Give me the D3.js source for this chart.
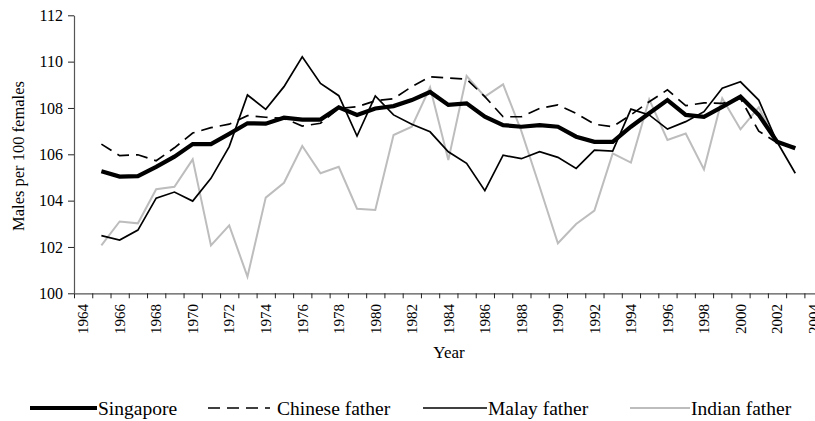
<!DOCTYPE html>
<html>
<head>
<meta charset="utf-8">
<script src="https://cdn.jsdelivr.net/npm/d3@7"></script>
<style>
  body { margin: 0; background: #fff; }
  svg, svg text { font-family: "Liberation Serif", "DejaVu Serif", "Times New Roman", serif; }
</style>
</head>
<body>
<div id="chart"></div>
<script>
// Sex ratio at birth, Singapore, by ethnic group of father
const years = d3.range(1965, 2004);

const singapore = [105.27, 105.04, 105.06, 105.46, 105.9, 106.44, 106.44, 106.88, 107.34, 107.32,
  107.58, 107.5, 107.5, 108.03, 107.7, 107.98, 108.08, 108.34, 108.69, 108.13,
  108.2, 107.62, 107.26, 107.19, 107.26, 107.19, 106.76, 106.54, 106.54, 107.19,
  107.77, 108.34, 107.7, 107.62, 108.05, 108.49, 107.7, 106.54, 106.26];

const chinese = [106.44, 105.94, 105.98, 105.72, 106.28, 106.92, 107.15, 107.3, 107.67, 107.6,
  107.55, 107.22, 107.34, 107.98, 108.05, 108.31, 108.4, 108.92, 109.35, 109.29,
  109.24, 108.49, 107.62, 107.62, 107.98, 108.13, 107.77, 107.3, 107.19, 107.7,
  108.27, 108.78, 108.1, 108.22, 108.2, 108.4, 107.0, 106.5, 106.3];

const malay = [102.49, 102.3, 102.73, 104.11, 104.37, 103.98, 104.96, 106.33, 108.56, 107.94,
  108.92, 110.21, 109.06, 108.53, 106.79, 108.52, 107.7, 107.3, 106.97, 106.11,
  105.61, 104.43, 105.96, 105.81, 106.11, 105.87, 105.39, 106.18, 106.14, 107.95,
  107.7, 107.09, 107.41, 107.84, 108.85, 109.13, 108.34, 106.54, 105.18];

const indian = [102.07, 103.1, 103.02, 104.49, 104.6, 105.78, 102.07, 102.93, 100.72, 104.13,
  104.77, 106.36, 105.18, 105.46, 103.65, 103.6, 106.83, 107.19, 108.89, 105.75,
  109.38, 108.49, 109.02, 107.0, 104.6, 102.16, 102.99, 103.57, 106.04, 105.64,
  108.37, 106.62, 106.9, 105.35, 108.42, 107.08, 108.03, 106.47, 106.33];

const yTicks = [100, 102, 104, 106, 108, 110, 112];
const xLabels = d3.range(1964, 2005, 2);

const series = [
  { name: "Indian father", values: indian, color: "#bdbdbd", width: 2, dash: null },
  { name: "Malay father", values: malay, color: "#000", width: 1.7, dash: null },
  { name: "Chinese father", values: chinese, color: "#000", width: 1.7, dash: "12,7" },
  { name: "Singapore", values: singapore, color: "#000", width: 4.2, dash: null }
];

const FONT = "Liberation Serif, DejaVu Serif, serif";
const width = 815;
const height = 421;
const margin = { top: 15, left: 74, bottom: 128 };
const step = 18.26;

const x = d3.scaleLinear()
  .domain([1963.5, 2004.5])
  .range([margin.left, margin.left + 41 * step]);

const y = d3.scaleLinear()
  .domain([100, 112])
  .range([293.3, margin.top + 0.3]);

const svg = d3.select("#chart").append("svg")
  .attr("width", width)
  .attr("height", height)
  .attr("font-family", FONT);

// x axis: tick marks on category boundaries, labels in the middle
const xTickAxis = svg.append("g")
  .attr("transform", `translate(0,${y(100)})`)
  .call(d3.axisBottom(x)
    .tickValues(d3.range(1963.5, 2005, 1))
    .tickSize(5)
    .tickSizeOuter(0)
    .tickFormat(""));
xTickAxis.select(".domain").attr("stroke", "#555").attr("stroke-width", 1.2);
xTickAxis.selectAll(".tick line").attr("stroke", "#222");

svg.append("g")
  .selectAll("text")
  .data(xLabels)
  .join("text")
  .attr("transform", d => `translate(${x(d)},304) rotate(-90)`)
  .attr("text-anchor", "end")
  .attr("dy", "0.35em")
  .attr("font-family", FONT)
  .style("font-size", "15px")
  .text(d => d);

// y axis
const yAxis = svg.append("g")
  .attr("transform", `translate(${margin.left},0)`)
  .call(d3.axisLeft(y)
    .tickValues(yTicks)
    .tickSize(6)
    .tickSizeOuter(0)
    .tickPadding(5));
yAxis.attr("font-family", FONT);
yAxis.select(".domain").attr("stroke", "#555").attr("stroke-width", 1.2);
yAxis.selectAll(".tick line").attr("stroke", "#222");
yAxis.selectAll(".tick text")
  .attr("font-family", FONT)
  .style("font-size", "16px")
  .attr("fill", "#000");

const line = d3.line()
  .x((d, i) => x(years[i]))
  .y(d => y(d));

svg.append("g")
  .selectAll("path")
  .data(series)
  .join("path")
  .attr("d", d => line(d.values))
  .attr("fill", "none")
  .attr("stroke", d => d.color)
  .attr("stroke-width", d => d.width)
  .attr("stroke-dasharray", d => d.dash)
  .attr("stroke-linejoin", "miter");

// axis titles
svg.append("text")
  .attr("x", 449)
  .attr("y", 358)
  .attr("text-anchor", "middle")
  .attr("font-family", FONT)
  .style("font-size", "17px")
  .text("Year");

svg.append("text")
  .attr("transform", "rotate(-90)")
  .attr("x", -156)
  .attr("y", 18)
  .attr("dy", "0.35em")
  .attr("text-anchor", "middle")
  .attr("font-family", FONT)
  .style("font-size", "16.5px")
  .text("Males per 100 females");

// legend
const legendItems = [
  { s: series[3], x1: 30, x2: 97, tx: 98 },
  { s: series[2], x1: 208, x2: 270, tx: 277 },
  { s: series[1], x1: 423, x2: 487, tx: 488 },
  { s: series[0], x1: 630, x2: 690, tx: 691 }
];

const legend = svg.append("g");
legendItems.forEach(d => {
  legend.append("line")
    .attr("x1", d.x1)
    .attr("x2", d.x2)
    .attr("y1", 408)
    .attr("y2", 408)
    .attr("stroke", d.s.color)
    .attr("stroke-width", d.s.width)
    .attr("stroke-dasharray", d.s.dash);
  legend.append("text")
    .attr("x", d.tx)
    .attr("y", 408)
    .attr("dy", "0.35em")
    .attr("font-family", FONT)
    .style("font-size", "19.5px")
    .text(d.s.name);
});
</script>
</body>
</html>
